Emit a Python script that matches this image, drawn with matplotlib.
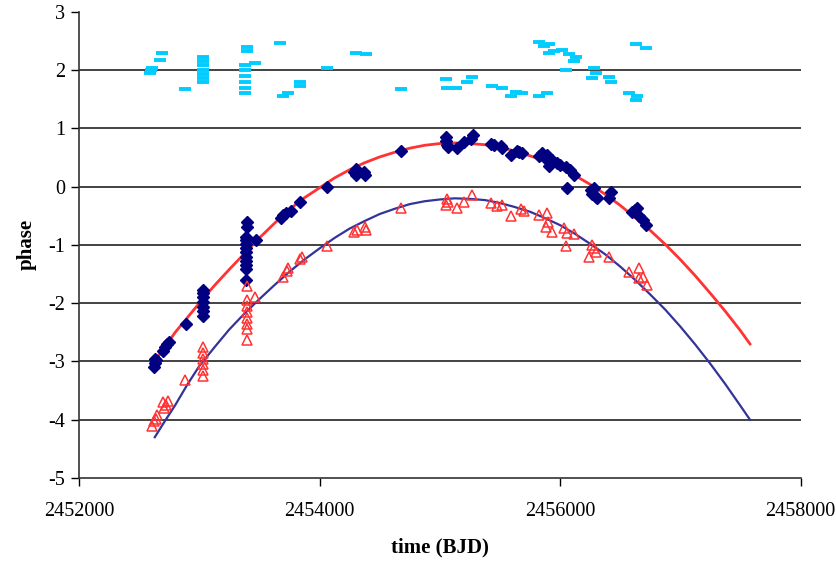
import matplotlib
matplotlib.use("Agg")
import matplotlib.pyplot as plt
import numpy as np

plt.rcParams["font.family"] = ["Liberation Serif", "DejaVu Serif"]
plt.rcParams["axes.unicode_minus"] = False

# fitted curves
fit_t = [2452630, 2452715, 2452800, 2452900, 2453000, 2453125, 2453250, 2453375, 2453500,
         2453625, 2453750, 2453875, 2454000, 2454125, 2454250, 2454375, 2454500, 2454625,
         2454750, 2454875, 2455000, 2455125, 2455250, 2455375, 2455500, 2455625, 2455750,
         2455875, 2456000, 2456125, 2456250, 2456375, 2456500, 2456625, 2456750, 2456875,
         2457000, 2457125, 2457250, 2457375, 2457500, 2457580]
fit_red = [-3.00, -2.75, -2.50, -2.25, -2.00, -1.70, -1.42, -1.15, -0.88,
           -0.63, -0.39, -0.19, -0.02, 0.15, 0.29, 0.41, 0.51, 0.59,
           0.66, 0.71, 0.74, 0.75, 0.74, 0.72, 0.68, 0.61, 0.53,
           0.44, 0.32, 0.19, 0.04, -0.13, -0.32, -0.53, -0.75, -0.99,
           -1.25, -1.53, -1.83, -2.14, -2.47, -2.70]
fit_blue = [-4.30, -4.02, -3.75, -3.40, -3.08, -2.76, -2.45, -2.18, -1.93,
            -1.69, -1.46, -1.25, -1.06, -0.88, -0.72, -0.59, -0.47, -0.38,
            -0.30, -0.25, -0.22, -0.20, -0.21, -0.23, -0.28, -0.35, -0.43,
            -0.54, -0.66, -0.81, -0.98, -1.16, -1.37, -1.60, -1.85, -2.11,
            -2.40, -2.71, -3.04, -3.39, -3.76, -4.00]

# dark blue diamonds
dia_t = [2452625, 2452630, 2452635, 2452640, 2452700, 2452715, 2452730, 2452745, 2452888,
         2453029, 2453029, 2453029, 2453029, 2453029, 2453029, 2453029,
         2453390, 2453390, 2453390, 2453390, 2453390, 2453390, 2453390, 2453390, 2453390,
         2453395, 2453395, 2453390, 2453470,
         2453680, 2453700, 2453720, 2453760, 2453834, 2454066,
         2454290, 2454307, 2454300, 2454373, 2454380, 2454680,
         2455050, 2455055, 2455062, 2455065, 2455145, 2455203, 2455260, 2455275,
         2455427, 2455450, 2455510, 2455519, 2455593, 2455640, 2455660, 2455680,
         2455826, 2455850, 2455880, 2455892, 2455909, 2455930, 2455975, 2456000,
         2456050, 2456080, 2456116, 2456058,
         2456260, 2456266, 2456280, 2456300, 2456310, 2456407, 2456420,
         2456598, 2456620, 2456640, 2456660, 2456690, 2456714]
dia_p = [-3.10, -3.02, -2.95, -2.98, -2.82, -2.75, -2.70, -2.66, -2.35,
         -2.22, -2.14, -2.06, -1.98, -1.90, -1.83, -1.77,
         -1.42, -1.35, -1.27, -1.20, -1.12, -1.05, -0.98, -0.92, -0.86,
         -0.69, -0.60, -1.60, -0.91,
         -0.53, -0.48, -0.45, -0.42, -0.26, 0.00,
         0.26, 0.20, 0.30, 0.26, 0.20, 0.62,
         0.85, 0.78, 0.72, 0.68, 0.67, 0.76, 0.82, 0.88,
         0.74, 0.72, 0.69, 0.66, 0.55, 0.62, 0.60, 0.58,
         0.52, 0.58, 0.48, 0.55, 0.35, 0.45, 0.41, 0.38,
         0.33, 0.28, 0.20, -0.02,
         -0.05, -0.12, -0.02, -0.17, -0.20, -0.19, -0.10,
         -0.43, -0.40, -0.36, -0.50, -0.58, -0.65]

# red open triangles
tri_t = [2452610, 2452620, 2452640, 2452650, 2452697, 2452710, 2452725, 2452740, 2452880,
         2453029, 2453029, 2453029, 2453029, 2453029, 2453029,
         2453394, 2453394, 2453394, 2453394, 2453394, 2453394, 2453394, 2453394, 2453461,
         2453693, 2453726, 2453740, 2453834, 2453851, 2454066,
         2454290, 2454310, 2454390, 2454380, 2454680,
         2455054, 2455062, 2455070, 2455145, 2455203, 2455270,
         2455427, 2455477, 2455519, 2455593, 2455676, 2455700,
         2455826, 2455884, 2455892, 2455934, 2455900, 2456033, 2456060, 2456116, 2456050,
         2456266, 2456241, 2456299, 2456407, 2456280,
         2456573, 2456656, 2456656, 2456722, 2456690]
tri_p = [-4.10, -4.02, -3.98, -3.92, -3.70, -3.80, -3.75, -3.68, -3.31,
         -2.75, -2.85, -2.95, -3.05, -3.15, -3.25,
         -1.71, -1.94, -2.05, -2.15, -2.25, -2.35, -2.45, -2.63, -1.90,
         -1.55, -1.45, -1.39, -1.25, -1.20, -1.01,
         -0.77, -0.74, -0.74, -0.70, -0.36,
         -0.31, -0.22, -0.27, -0.36, -0.26, -0.15,
         -0.28, -0.34, -0.31, -0.51, -0.39, -0.42,
         -0.48, -0.69, -0.45, -0.77, -0.60, -0.71, -0.80, -0.82, -1.01,
         -1.00, -1.20, -1.12, -1.20, -1.05,
         -1.46, -1.39, -1.56, -1.68, -1.55]

# cyan dashes
cy_t = [2452689, 2452672, 2452606, 2452589, 2452600, 2452880,
        2453029, 2453029, 2453029, 2453029, 2453029, 2453029, 2453029,
        2453394, 2453394, 2453378, 2453378, 2453378, 2453378, 2453378, 2453378, 2453461,
        2453668, 2453693, 2453734, 2453834, 2453834, 2454066, 2454307, 2454390, 2454680,
        2455054, 2455062, 2455137, 2455228, 2455270, 2455436, 2455519,
        2455635, 2455685, 2455593, 2455826, 2455892,
        2455826, 2455909, 2455950, 2456017, 2456075, 2456133, 2456116, 2455909, 2455870,
        2456050, 2456282, 2456299, 2456266, 2456407, 2456423,
        2456573, 2456639, 2456631, 2456631, 2456714]
cy_p = [2.29, 2.18, 2.03, 1.95, 2.00, 1.67,
        2.23, 2.15, 2.08, 2.00, 1.93, 1.86, 1.79,
        2.40, 2.32, 2.09, 2.00, 1.90, 1.80, 1.70, 1.61, 2.12,
        2.47, 1.55, 1.61, 1.79, 1.72, 2.03, 2.30, 2.27, 1.67,
        1.84, 1.70, 1.70, 1.80, 1.89, 1.72, 1.70,
        1.63, 1.60, 1.55, 1.55, 1.61,
        2.49, 2.44, 2.32, 2.35, 2.27, 2.22, 2.15, 2.30, 2.42,
        2.00, 2.03, 1.95, 1.87, 1.89, 1.80,
        1.61, 1.55, 1.49, 2.45, 2.38]

fig = plt.figure(figsize=(8.37, 5.65), dpi=100)
ax = fig.add_axes([0.0944, 0.154, 0.862, 0.825])

ax.plot(fit_t, fit_red, color="#ff3333", lw=2, zorder=3)
ax.plot(fit_t, fit_blue, color="#33339a", lw=1.6, zorder=3)
ax.plot(cy_t, cy_p, ls="none", marker="_", ms=9, mew=2.8, color="#00ccff", zorder=4)
ax.plot(dia_t, dia_p, ls="none", marker="D", ms=6.5, color="#000080", zorder=4)
ax.plot(tri_t, tri_p, ls="none", marker="^", ms=7.5, mfc="none", mec="#ff3333", mew=1.1, zorder=4)

ax.set_xlim(2452000, 2458000)
ax.set_ylim(-5, 3)
ax.set_xticks([2452000, 2454000, 2456000, 2458000])
ax.set_yticks(np.arange(-5, 4, 1))
ax.ticklabel_format(useOffset=False, style="plain", axis="x")
ax.tick_params(direction="out", length=6, width=1, labelsize=14.5, pad=4)
ax.tick_params(axis="x", pad=11)

ax.yaxis.grid(True, color="#222222", lw=1.2)
gl = ax.get_ygridlines()
gl[0].set_visible(False)
gl[-1].set_visible(False)
ax.set_axisbelow(True)

for s in ["top", "right"]:
    ax.spines[s].set_visible(False)
for s in ["left", "bottom"]:
    ax.spines[s].set_color("#333333")
    ax.spines[s].set_linewidth(1.2)

ax.set_xlabel("time (BJD)", fontsize=15, fontweight="bold", labelpad=12)
ax.set_ylabel("phase", fontsize=15, fontweight="bold", labelpad=8)

fig.savefig("out.png", dpi=100)
